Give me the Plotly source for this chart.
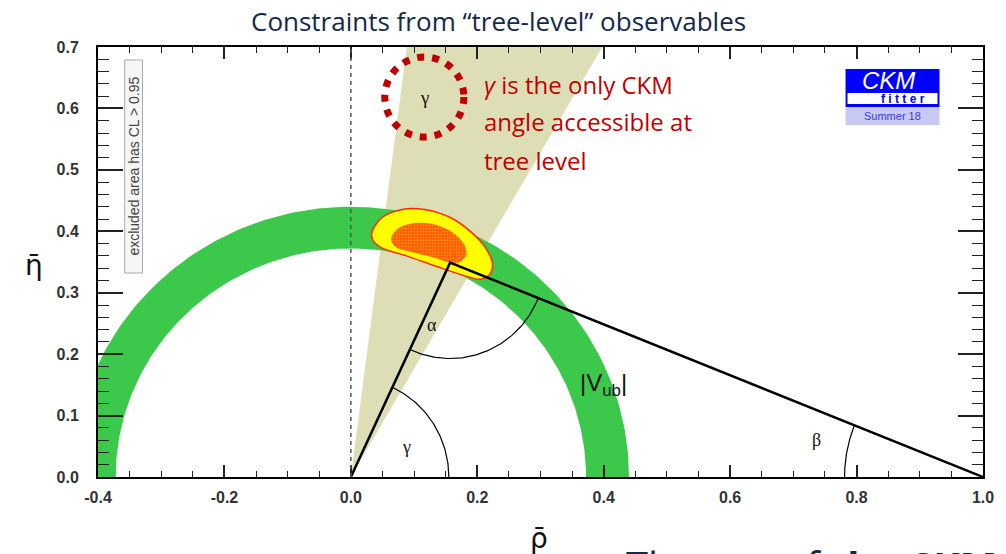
import numpy as np
import plotly.graph_objects as go

# ---- unitarity-triangle constraint data (rho-bar, eta-bar plane) ----
apex_rho = 0.157
apex_eta = 0.349

vub_r_inner = 0.372
vub_r_outer = 0.440

gamma_min_deg = 60.4
gamma_max_deg = 82.8

# 95% CL region of the global fit (outer, yellow)
fit95_rho = [0.033, 0.049, 0.083, 0.119, 0.158, 0.190, 0.213, 0.224, 0.220,
             0.205, 0.182, 0.135, 0.088, 0.049, 0.036]
fit95_eta = [0.397, 0.422, 0.436, 0.435, 0.422, 0.399, 0.373, 0.348, 0.330,
             0.322, 0.327, 0.343, 0.360, 0.373, 0.384]

# 68% CL region of the global fit (inner, hatched orange)
fit68_rho = [0.065, 0.076, 0.104, 0.135, 0.162, 0.179, 0.182, 0.171, 0.155,
             0.130, 0.099, 0.072, 0.065]
fit68_eta = [0.391, 0.405, 0.413, 0.410, 0.397, 0.378, 0.361, 0.350, 0.350,
             0.358, 0.366, 0.374, 0.383]

x_range = [-0.4, 1.0]
y_range = [0.0, 0.7]
x_ticks = [-0.4, -0.2, 0.0, 0.2, 0.4, 0.6, 0.8, 1.0]
x_tick_text = ["-0.4", "-0.2", "0.0", "0.2", "0.4", "0.6", "0.8", "1.0"]
y_ticks = [0.0, 0.1, 0.2, 0.3, 0.4, 0.5, 0.6, 0.7]
y_tick_text = ["0.0", "0.1", "0.2", "0.3", "0.4", "0.5", "0.6", "0.7"]

# ---- page geometry ----
W, H = 1006, 554
L, R, T, B = 98, 13, 47, 77
plot_w, plot_h = W - L - R, H - T - B
sx = plot_w / (x_range[1] - x_range[0])   # px per unit rho
sy = plot_h / (y_range[1] - y_range[0])   # px per unit eta


def px(x):
    return (x - L) / plot_w


def py(y):
    return (H - B - y) / plot_h


def arc(cx, cy, r, a0, a1, n=80):
    """Circular arc (round on screen) around (cx, cy); angles in screen degrees."""
    t = np.radians(np.linspace(a0, a1, n))
    return cx + r * np.cos(t), cy + r * np.sin(t) * sx / sy


def screen_angle(dx, dy):
    return np.degrees(np.arctan2(dy * sy, dx * sx))


def note(x, y, text, font, xanchor="center", yanchor="middle", **kw):
    fig.add_annotation(xref="paper", yref="paper", x=px(x), y=py(y), text=text,
                       showarrow=False, xanchor=xanchor, yanchor=yanchor,
                       font=font, **kw)


GREEN = "#3cc84a"
BEIGE = "#dedeb6"
RED = "#c00000"
NAVY = "#13294b"

fig = go.Figure()

# gamma wedge from the origin
g = np.radians([gamma_min_deg, gamma_max_deg])
far = 2.0
fig.add_trace(go.Scatter(
    x=[0, far * np.cos(g[0]), far * np.cos(g[1]), 0],
    y=[0, far * np.sin(g[0]), far * np.sin(g[1]), 0],
    fill="toself", fillcolor=BEIGE, line=dict(width=0), mode="lines",
    hoverinfo="skip", showlegend=False))

# |Vub| annulus
th = np.linspace(0, np.pi, 200)
ring_x = np.concatenate([vub_r_outer * np.cos(th), vub_r_inner * np.cos(th[::-1])])
ring_y = np.concatenate([vub_r_outer * np.sin(th), vub_r_inner * np.sin(th[::-1])])
fig.add_trace(go.Scatter(
    x=ring_x, y=ring_y, fill="toself", fillcolor=GREEN, line=dict(width=0),
    mode="lines", hoverinfo="skip", showlegend=False))

# global fit regions
fig.add_trace(go.Scatter(
    x=fit95_rho + [fit95_rho[0]], y=fit95_eta + [fit95_eta[0]],
    fill="toself", fillcolor="#ffff00", mode="lines",
    line=dict(color="#ff2a00", width=1.5, shape="spline", smoothing=1.0),
    hoverinfo="skip", showlegend=False))
fig.add_trace(go.Scatter(
    x=fit68_rho + [fit68_rho[0]], y=fit68_eta + [fit68_eta[0]],
    fill="toself", mode="lines",
    fillpattern=dict(shape=".", bgcolor="#ff5a00", fgcolor="#ffc830",
                     size=3, solidity=0.35),
    line=dict(color="#ff5a00", width=0.5, shape="spline", smoothing=1.0),
    hoverinfo="skip", showlegend=False))

# unitarity triangle
fig.add_trace(go.Scatter(
    x=[0, apex_rho, 1.0], y=[0, apex_eta, 0], mode="lines",
    line=dict(color="black", width=2.5), hoverinfo="skip", showlegend=False))

# angle arcs
a_left = screen_angle(apex_rho, apex_eta)            # side from origin to apex
a_right = screen_angle(1.0 - apex_rho, -apex_eta)    # side from apex to (1,0)
arcs = [
    arc(0.0, 0.0, 0.155, 0.0, a_left),
    arc(apex_rho, apex_eta, 0.150, a_left + 180.0, 360.0 + a_right),
    arc(1.0, 0.0, 0.219, 180.0 + a_right, 180.0),
]
for ax_, ay_ in arcs:
    fig.add_trace(go.Scatter(x=ax_, y=ay_, mode="lines",
                             line=dict(color="black", width=1.2),
                             hoverinfo="skip", showlegend=False))

serif = dict(family="Liberation Serif, DejaVu Serif", size=18, color="#111")
angle_labels = [("α", 0.128, 0.247), ("γ", 0.088, 0.049), ("β", 0.737, 0.060)]
for txt, xx, yy in angle_labels:
    fig.add_annotation(x=xx, y=yy, text=txt, showarrow=False, font=serif,
                       xanchor="center", yanchor="middle")

fig.add_annotation(x=0.40, y=0.150, text="|V<sub>ub</sub>|", showarrow=False,
                   xanchor="center", yanchor="middle",
                   font=dict(family="Liberation Sans, Arial", size=24, color="#111"))

# gamma label and its highlight circle
fig.add_annotation(x=0.116, y=0.618, text="γ", showarrow=False,
                   xanchor="center", yanchor="middle",
                   font=dict(family="Liberation Serif, DejaVu Serif", size=19, color="#111"))

shapes = []
shapes.append(dict(type="line", xref="x", yref="y", x0=0, x1=0, y0=0, y1=0.7,
                   line=dict(color="#555", width=1.5, dash="4px,4px"), layer="above"))
shapes.append(dict(type="circle", xref="paper", yref="paper",
                   x0=px(388), x1=px(468), y0=py(137), y1=py(57),
                   line=dict(color=RED, width=7, dash="7px,8px")))

# excluded-area note box
shapes.append(dict(type="rect", xref="paper", yref="paper",
                   x0=px(125), x1=px(143), y0=py(273), y1=py(60),
                   line=dict(color="#aaaaaa", width=1), fillcolor="#f6f6f6"))
note(134, 166, "excluded area has CL > 0.95",
     dict(family="Liberation Sans Narrow, Liberation Sans, Arial", size=14, color="#444"),
     textangle=-90)

# CKMfitter badge
shapes.append(dict(type="rect", xref="paper", yref="paper",
                   x0=px(854), x1=px(949), y0=py(107), y1=py(69),
                   line=dict(width=0), fillcolor="#0000ff"))
shapes.append(dict(type="rect", xref="paper", yref="paper",
                   x0=px(856), x1=px(947), y0=py(104), y1=py(93),
                   line=dict(width=0), fillcolor="white"))
shapes.append(dict(type="rect", xref="paper", yref="paper",
                   x0=px(854), x1=px(949), y0=py(125), y1=py(107),
                   line=dict(width=0), fillcolor="#c8c8f4"))
note(897, 80, "<i>CKM</i>", dict(family="Liberation Sans, Arial", size=24, color="white"))
note(912, 99, "<b>f i t t e r</b>", dict(family="Liberation Sans, Arial", size=12, color="#0000ff"))
note(901, 116, "Summer 18", dict(family="Liberation Sans, Arial", size=11, color="#3a3ae0"))

# headline and callout text
note(503, 21, "Constraints from “tree-level” observables",
     dict(family="Open Sans, Noto Sans", size=26, color=NAVY))
callout = ["<i>γ</i> is the only CKM", "angle accessible at", "tree level"]
for i, line in enumerate(callout):
    note(486, 84 + 38 * i, line, dict(family="Open Sans, Noto Sans", size=24, color=RED),
         xanchor="left")
note(630, 536, "The use of <b>the CKM</b>",
     dict(family="Open Sans, Noto Sans", size=40, color=NAVY),
     xanchor="left", yanchor="top")

# axis titles
axis_font = dict(family="DejaVu Sans, Liberation Sans", size=28, color="#111")
note(33, 265, "\u03b7\u0304", axis_font)
note(544, 538, "\u03c1\u0304", axis_font)

tick_font = dict(family="Liberation Sans, Arial", size=16, color="#333", weight="bold")
fig.update_layout(
    width=W, height=H, margin=dict(l=L, r=R, t=T, b=B),
    paper_bgcolor="white", plot_bgcolor="white",
    shapes=shapes, showlegend=False,
    xaxis=dict(range=x_range, tickvals=x_ticks, ticktext=x_tick_text,
               showgrid=False, zeroline=False, showline=True, linecolor="black",
               linewidth=2, mirror="ticks", ticks="inside", ticklen=12, tickwidth=1.5,
               tickcolor="#222", tickfont=tick_font, ticklabelstandoff=5,
               minor=dict(dtick=0.05, tick0=0, ticks="inside", ticklen=6,
                          tickwidth=1.2, tickcolor="#222", showgrid=False)),
    yaxis=dict(range=y_range, tickvals=y_ticks, ticktext=y_tick_text,
               showgrid=False, zeroline=False, showline=True, linecolor="black",
               linewidth=2, mirror="ticks", ticks="inside", ticklen=25, tickwidth=1.5,
               tickcolor="#222", tickfont=tick_font, ticklabelstandoff=14,
               minor=dict(dtick=0.02, tick0=0, ticks="inside", ticklen=11,
                          tickwidth=1.2, tickcolor="#222", showgrid=False)),
)

fig.write_html("out.html")
